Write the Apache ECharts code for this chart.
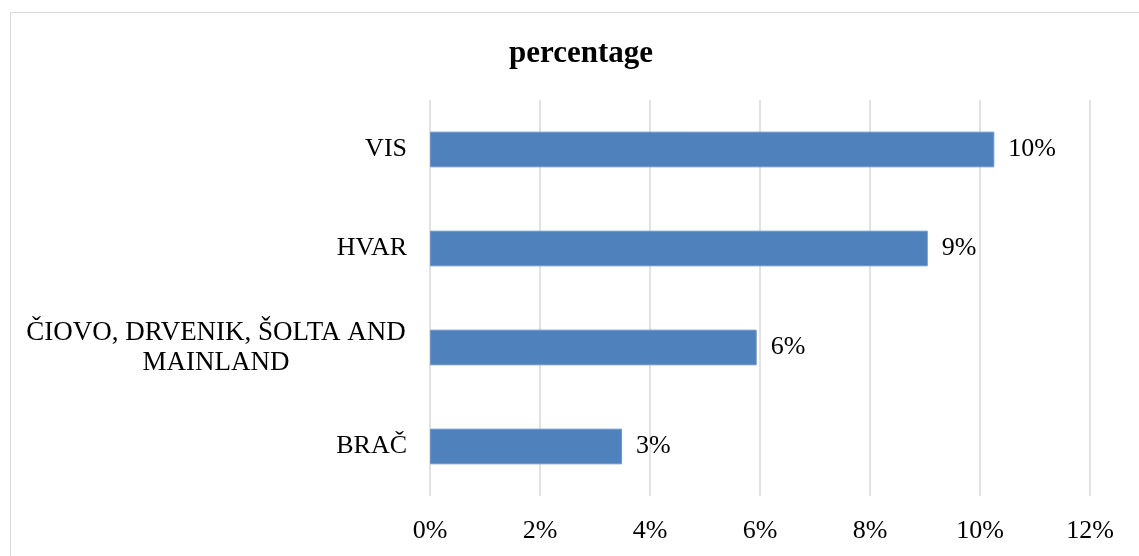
<!DOCTYPE html>
<html>
<head>
<meta charset="utf-8">
<script src="https://cdn.jsdelivr.net/npm/echarts@6/dist/echarts.min.js"></script>
<style>
  html, body { margin: 0; padding: 0; background: #fff; }
  #frame { position: absolute; left: 10px; top: 12px; width: 1140px; height: 560px; border: 1px solid #d9d9d9; box-sizing: border-box; }
  #chart { position: absolute; left: 0; top: 0; width: 1139px; height: 556px; }
</style>
</head>
<body>
<div id="frame"></div>
<div id="chart"></div>
<script>
// Regions, listed bottom to top as the category axis draws them
const regions = ['BRAČ', 'ČIOVO, DRVENIK, ŠOLTA AND\nMAINLAND', 'HVAR', 'VIS'];
// Share of each region (fraction)
const shares = [0.0349, 0.0594, 0.0905, 0.1026];
// Value axis range and step
const axisMin = 0;
const axisMax = 0.12;
const axisStep = 0.02;

const serif = '"Liberation Serif", "Times New Roman", serif';
const pct = v => Math.round(v * 100) + '%';

const chart = echarts.init(document.getElementById('chart'));
chart.setOption({
  animation: false,
  title: {
    text: 'percentage',
    left: 576,
    textAlign: 'center',
    top: 33,
    textStyle: { fontFamily: serif, fontWeight: 'bold', fontSize: 31, color: '#000' }
  },
  grid: { left: 430, right: 49, top: 100, bottom: 60 },
  xAxis: {
    type: 'value',
    min: axisMin,
    max: axisMax,
    interval: axisStep,
    axisLine: { show: false },
    axisTick: { show: false },
    splitLine: { lineStyle: { color: '#d9d9d9', width: 1.5 } },
    axisLabel: {
      formatter: pct,
      margin: 22,
      fontFamily: serif,
      fontSize: 26,
      color: '#000'
    }
  },
  yAxis: {
    type: 'category',
    data: regions,
    axisLine: { show: false },
    axisTick: { show: false },
    axisLabel: {
      margin: 23,
      fontFamily: serif,
      fontSize: 26,
      color: '#000',
      lineHeight: 30,
      formatter: v => v.includes('\n') ? v.split('\n').map(s => '{c|' + s + '}').join('\n') : v,
      rich: {
        c: { width: 382, align: 'center', fontFamily: serif, fontSize: 27, color: '#000', lineHeight: 30 }
      }
    }
  },
  series: [{
    type: 'bar',
    data: shares,
    barCategoryGap: '64%',
    itemStyle: { color: '#4f81bd', borderColor: '#6a95c9', borderWidth: 1 },
    label: {
      show: true,
      position: 'right',
      distance: 14,
      formatter: p => pct(p.value),
      fontFamily: serif,
      fontSize: 26,
      color: '#000'
    }
  }]
});
</script>
</body>
</html>
